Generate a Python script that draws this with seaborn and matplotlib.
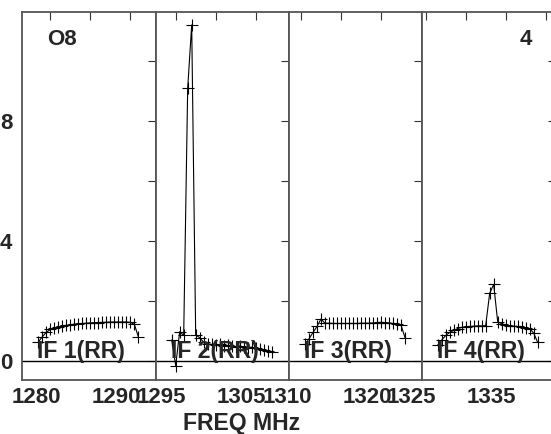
import numpy as np
import pandas as pd
import matplotlib
matplotlib.use("Agg")
import matplotlib.pyplot as plt
import matplotlib.transforms as mtransforms
import seaborn as sns

# frequenze dei canali (MHz) e ampiezze, una lista per IF
freq_if1 = [1278.5, 1279.0, 1279.5, 1280.0, 1280.5, 1281.0, 1281.5, 1282.0, 1282.5,
            1283.0, 1283.5, 1284.0, 1284.5, 1285.0, 1285.5, 1286.0, 1286.5, 1287.0,
            1287.5, 1288.0, 1288.5, 1289.0, 1289.5, 1290.0, 1290.5, 1291.0]
amp_if1 = [0.64, 0.81, 0.96, 1.05, 1.10, 1.14, 1.17, 1.19, 1.21, 1.23, 1.24, 1.25, 1.26,
           1.27, 1.28, 1.28, 1.29, 1.29, 1.30, 1.30, 1.30, 1.30, 1.30, 1.29, 1.22, 0.80]

freq_if2 = [1294.5, 1295.0, 1295.5, 1296.0, 1296.5, 1297.0, 1297.5, 1298.0, 1298.5,
            1299.0, 1299.5, 1300.0, 1300.5, 1301.0, 1301.5, 1302.0, 1302.5, 1303.0,
            1303.5, 1304.0, 1304.5, 1305.0, 1305.5, 1306.0, 1306.5, 1307.0]
amp_if2 = [0.70, -0.15, 0.98, 0.85, 9.09, 11.2, 0.87, 0.78, 0.62, 0.58, 0.55, 0.52, 0.55,
           0.50, 0.52, 0.50, 0.48, 0.50, 0.47, 0.45, 0.46, 0.42, 0.40, 0.36, 0.34, 0.31]

freq_if3 = [1310.5, 1311.0, 1311.5, 1312.0, 1312.5, 1313.0, 1313.5, 1314.0, 1314.5,
            1315.0, 1315.5, 1316.0, 1316.5, 1317.0, 1317.5, 1318.0, 1318.5, 1319.0,
            1319.5, 1320.0, 1320.5, 1321.0, 1321.5, 1322.0, 1322.5, 1323.0]
amp_if3 = [0.55, 0.74, 0.95, 1.15, 1.40, 1.26, 1.26, 1.25, 1.25, 1.25, 1.25, 1.25, 1.25,
           1.25, 1.26, 1.26, 1.26, 1.27, 1.28, 1.29, 1.28, 1.27, 1.25, 1.24, 1.20, 0.78]

freq_if4 = [1326.5, 1327.0, 1327.5, 1328.0, 1328.5, 1329.0, 1329.5, 1330.0, 1330.5,
            1331.0, 1331.5, 1332.0, 1332.5, 1333.0, 1333.5, 1334.0, 1334.5, 1335.0,
            1335.5, 1336.0, 1336.5, 1337.0, 1337.5, 1338.0, 1338.5, 1339.0]
amp_if4 = [0.53, 0.70, 0.85, 0.95, 1.02, 1.08, 1.12, 1.14, 1.15, 1.16, 1.17, 1.17, 1.18,
           2.26, 2.55, 1.31, 1.24, 1.20, 1.18, 1.16, 1.15, 1.13, 1.11, 1.08, 0.93, 0.62]

if_labels = ["IF 1(RR)", "IF 2(RR)", "IF 3(RR)", "IF 4(RR)"]
x_ticks = [[1280, 1285, 1290], [1295, 1300, 1305], [1310, 1315, 1320, 1325],
           [1325, 1330, 1335, 1340]]
x_ticklabels = [["1280", "", "1290"], ["1295", "", "1305"], ["1310", "", "1320", ""],
                ["1325", "", "1335", ""]]
y_ticks = [0, 2, 4, 6, 8, 10]
y_ticklabels = ["0", "", "4", "", "8", ""]

freqs = [freq_if1, freq_if2, freq_if3, freq_if4]
amps = [amp_if1, amp_if2, amp_if3, amp_if4]

# limiti di ogni pannello
x_limits = [(1276.45, 1293.2), (1292.54, 1309.16), (1308.5, 1325.125), (1324.54, 1341.29)]
y_limits = (-0.633, 11.63)

sns.set_style("white")
plt.rcParams["font.family"] = ["Liberation Sans", "DejaVu Sans"]
plt.rcParams["font.weight"] = "bold"

W, H = 551, 434
fig = plt.figure(figsize=(W / 100, H / 100), dpi=100)
edges = [22, 156, 289, 422, 556]
bottom_px, top_px = 380, 12
shift = mtransforms.ScaledTranslation(-14 / 100, 0, fig.dpi_scale_trans)

for i in range(4):
    left = edges[i]
    width = edges[i + 1] - edges[i]
    ax = fig.add_axes([left / W, (H - bottom_px) / H, width / W, (bottom_px - top_px) / H])
    df = pd.DataFrame({"freq": freqs[i], "amp": amps[i]})
    sns.lineplot(data=df, x="freq", y="amp", ax=ax, color="black", linewidth=0.8,
                 marker="+", markersize=8, mew=0.8, mec="black")
    ax.axhline(0, color="black", lw=1)
    ax.set_xlim(x_limits[i])
    ax.set_ylim(y_limits)
    ax.set_xticks(x_ticks[i])
    ax.set_xticklabels(x_ticklabels[i])
    ax.set_yticks(y_ticks)
    if i == 0:
        ax.set_yticklabels(y_ticklabels)
    else:
        ax.set_yticklabels([])
    ax.tick_params(direction="in", top=True, right=True, length=5.8, width=0.8,
                   color="#333333", labelsize=16)
    ax.tick_params(axis="x", pad=5)
    ax.tick_params(axis="y", pad=7)
    for s in ax.spines.values():
        s.set_color("#555555")
        s.set_linewidth(1.3)
    ax.set_xlabel("")
    ax.set_ylabel("")
    for lab in ax.get_xticklabels():
        lab.set_transform(lab.get_transform() + shift)
    ax.text(15 / width, 22 / (bottom_px - top_px), if_labels[i], transform=ax.transAxes,
            fontsize=16.6, fontweight="bold", ha="left", va="baseline")
    if i == 0:
        ax.text(25 / width, (bottom_px - 45) / (bottom_px - top_px), "O8",
                transform=ax.transAxes, fontsize=16, fontweight="bold", ha="left", va="baseline")
    if i == 3:
        ax.text(110 / width, (bottom_px - 45) / (bottom_px - top_px), "4",
                transform=ax.transAxes, fontsize=16, fontweight="bold", ha="right", va="baseline")

fig.text(241.7 / W, 4 / H, "FREQ MHz", fontsize=16.6, fontweight="bold", ha="center", va="baseline")

fig.savefig("out.png", dpi=100)
